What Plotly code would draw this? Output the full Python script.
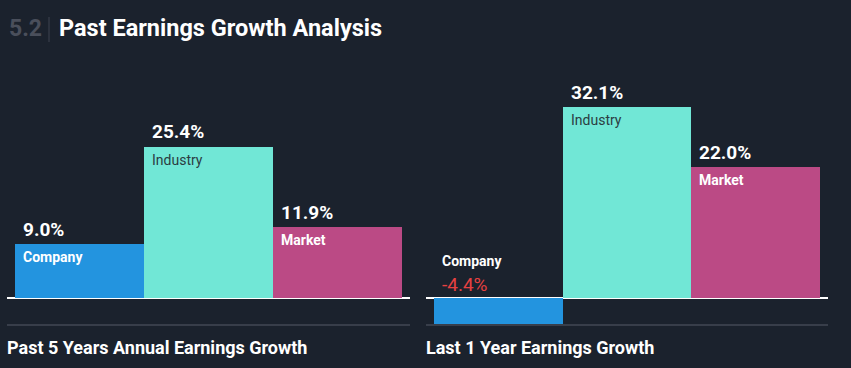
import plotly.graph_objects as go

# ---- data ----
categories = ["Company", "Industry", "Market"]
past5_values = [9.0, 25.4, 11.9]
last1_values = [-4.4, 32.1, 22.0]
panel_titles = ["Past 5 Years Annual Earnings Growth", "Last 1 Year Earnings Growth"]
section_number = "5.2"
chart_title = "Past Earnings Growth Analysis"

# ---- style ----
BG = "#1b222d"
BAR_COLORS = ["#2394df", "#71e7d6", "#bb4a85"]
LABEL_COLORS = ["#ffffff", "#2b3d42", "#ffffff"]
LABEL_WEIGHTS = ["bold", "normal", "bold"]
NEG_COLOR = "#e64141"
FONT = "Roboto"
W, H = 851, 368

PX_PER_UNIT = 5.95
ZERO_PX = 298
y_range = [-(H - ZERO_PX) / PX_PER_UNIT, ZERO_PX / PX_PER_UNIT]
pad = 8 / 129
x_range = [-0.5 - pad, 2.5 + pad]

fig = go.Figure()
panels = [(past5_values, "x", "y", [7 / W, 410 / W]),
          (last1_values, "x2", "y2", [426 / W, 828 / W])]

annotations = []
shapes = []
for p, (vals, xa, ya, dom) in enumerate(panels):
    fig.add_trace(go.Bar(
        x=list(range(len(categories))), y=vals,
        marker=dict(color=BAR_COLORS, line=dict(width=0)),
        width=1, xaxis=xa, yaxis=ya, hoverinfo="skip", showlegend=False,
    ))
    for i, (cat, v) in enumerate(zip(categories, vals)):
        if v >= 0:
            annotations.append(dict(
                x=i - 0.5, y=v, xref=xa, yref=ya, xanchor="left", yanchor="middle",
                xshift=6, yshift=15, showarrow=False, text=f"<b>{v:.1f}%</b>",
                font=dict(family=FONT, size=19, color="#ffffff")))
            annotations.append(dict(
                x=i - 0.5, y=v, xref=xa, yref=ya, xanchor="left", yanchor="middle",
                xshift=6, yshift=-13, showarrow=False,
                text=(f"<b>{cat}</b>" if LABEL_WEIGHTS[i] == "bold" else cat),
                font=dict(family=FONT, size=14, color=LABEL_COLORS[i])))
        else:
            annotations.append(dict(
                x=i - 0.5, y=0, xref=xa, yref=ya, xanchor="left", yanchor="middle",
                xshift=6, yshift=14, showarrow=False, text=f"{v:.1f}%",
                font=dict(family=FONT, size=19, color=NEG_COLOR)))
            annotations.append(dict(
                x=i - 0.5, y=0, xref=xa, yref=ya, xanchor="left", yanchor="middle",
                xshift=6, yshift=37, showarrow=False, text=f"<b>{cat}</b>",
                font=dict(family=FONT, size=14, color="#ffffff")))
    # separator line below chart
    shapes.append(dict(type="line", xref=f"{xa} domain", yref="paper",
                       x0=0, x1=1, y0=(H - 325) / H, y1=(H - 325) / H,
                       line=dict(color="#434855", width=1.5)))
    annotations.append(dict(
        x=dom[0], y=(H - 347) / H, xref="paper", yref="paper", xanchor="left",
        yanchor="middle", xshift=-2, showarrow=False, text=f"<b>{panel_titles[p]}</b>",
        font=dict(family=FONT, size=18, color="#ffffff")))

# title
annotations.append(dict(x=7 / W, y=(H - 28) / H, xref="paper", yref="paper",
                        xanchor="left", yanchor="middle", showarrow=False,
                        text=f"<b>{section_number}</b>",
                        font=dict(family=FONT, size=23, color="#4a4f5b")))
annotations.append(dict(x=57 / W, y=(H - 28) / H, xref="paper", yref="paper",
                        xanchor="left", yanchor="middle", showarrow=False,
                        text=f"<b>{chart_title}</b>",
                        font=dict(family=FONT, size=23.5, color="#ffffff")))
shapes.append(dict(type="line", xref="paper", yref="paper",
                   x0=49 / W, x1=49 / W, y0=(H - 17) / H, y1=(H - 42) / H,
                   line=dict(color="#3e4350", width=1)))

axis_common = dict(showgrid=False, showticklabels=False, ticks="", showline=False)
fig.update_layout(
    width=W, height=H, autosize=False,
    margin=dict(l=0, r=0, t=0, b=0),
    paper_bgcolor=BG, plot_bgcolor=BG,
    bargap=0,
    xaxis=dict(domain=panels[0][3], range=x_range, zeroline=False, **axis_common),
    xaxis2=dict(domain=panels[1][3], range=x_range, zeroline=False, **axis_common),
    yaxis=dict(domain=[0, 1], range=y_range, anchor="x", zeroline=True,
               zerolinecolor="#ffffff", zerolinewidth=1.5, **axis_common),
    yaxis2=dict(domain=[0, 1], range=y_range, anchor="x2", zeroline=True,
                zerolinecolor="#ffffff", zerolinewidth=1.5, **axis_common),
    annotations=annotations, shapes=shapes,
    font=dict(family=FONT),
)

fig.write_html("out.html", config=dict(displayModeBar=False),
               post_script="document.body.style.margin='0';document.body.style.background='%s';" % BG)
